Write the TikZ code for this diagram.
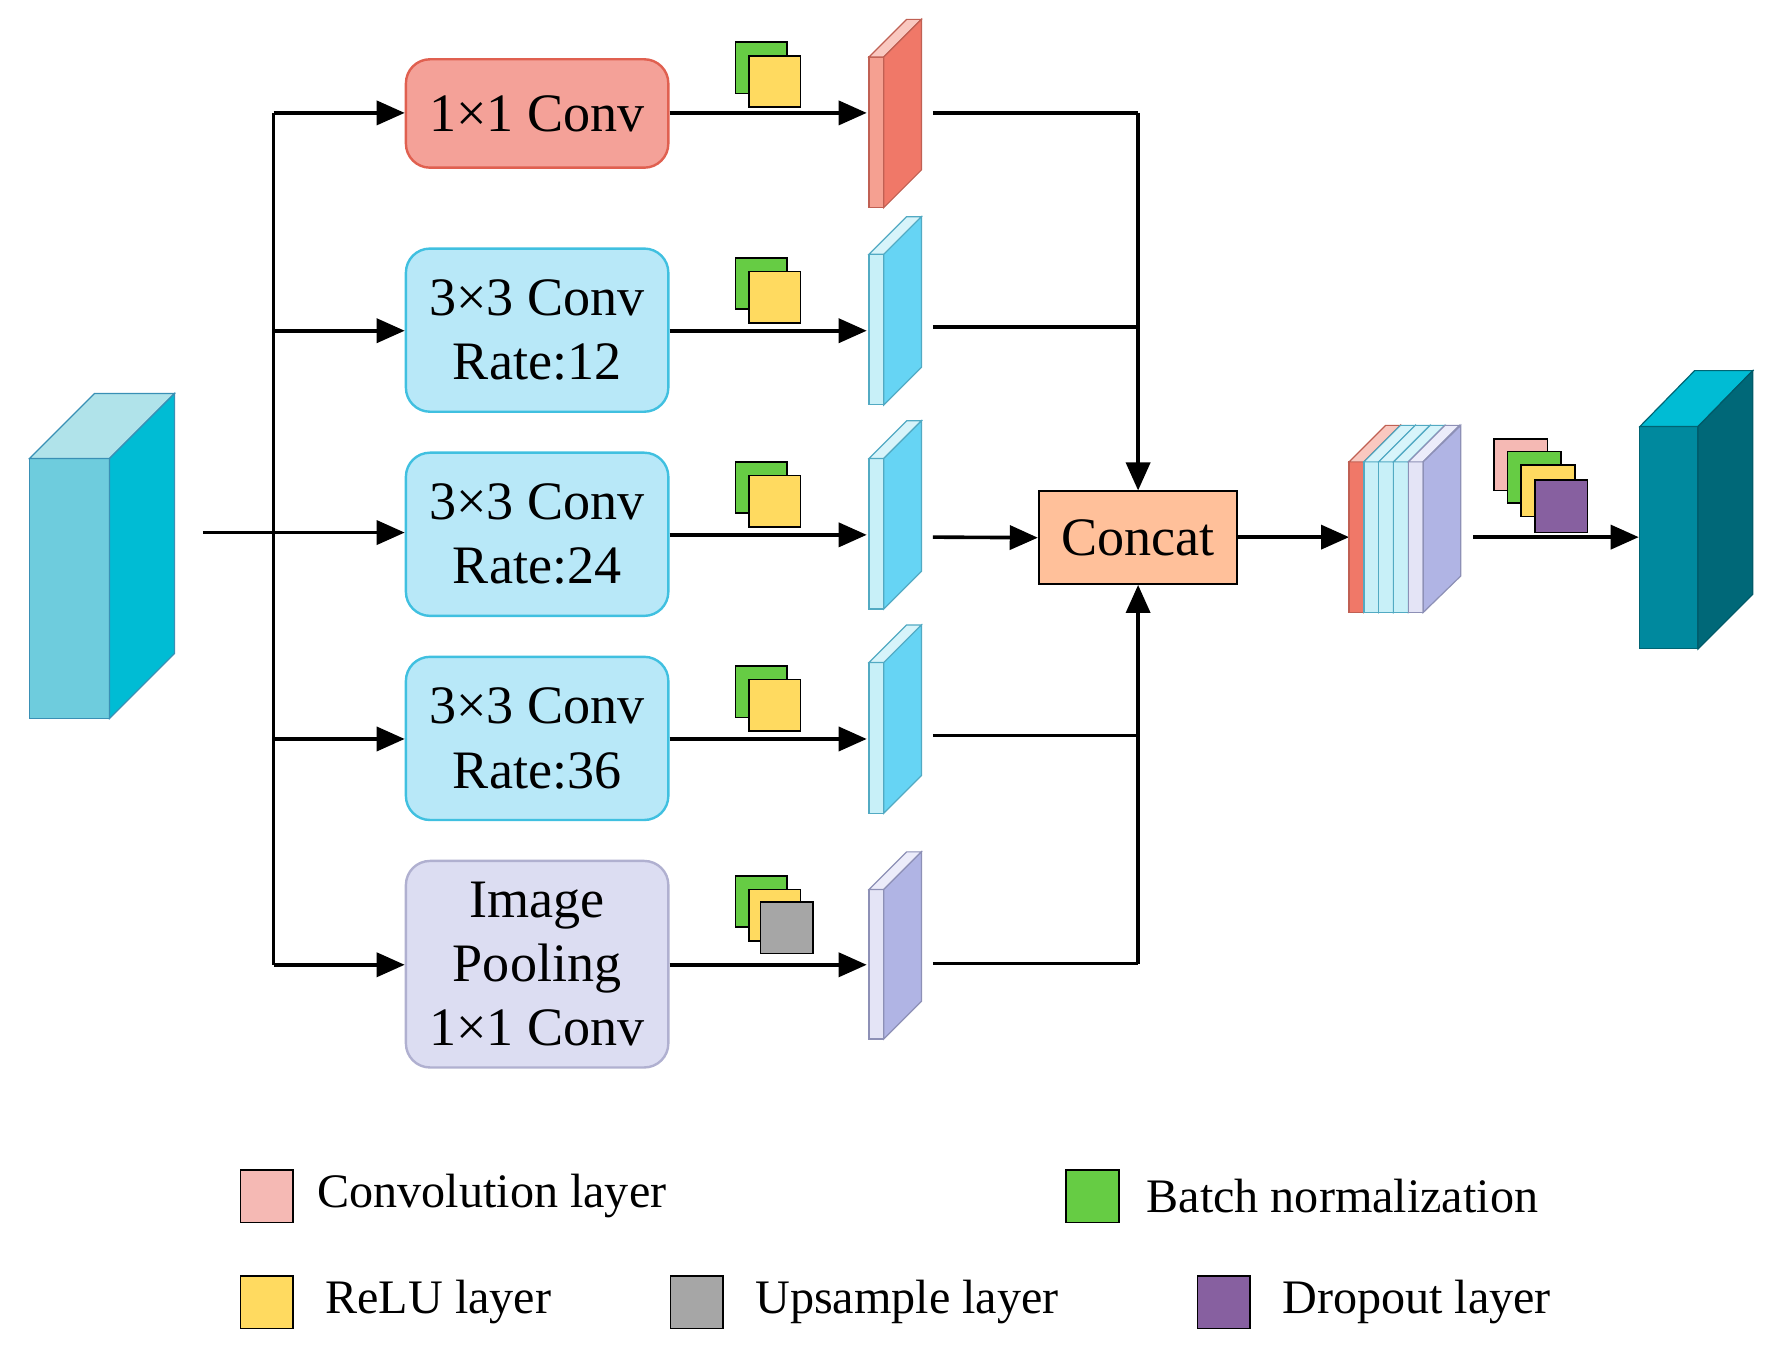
\documentclass[tikz,border=0pt]{standalone}
\usepackage{fontspec}
\setmainfont{Liberation Serif}
\usetikzlibrary{arrows.meta}
\definecolor{cpink}{HTML}{F4A198}
\definecolor{cblue}{HTML}{B8E8F8}
\definecolor{cpur}{HTML}{DCDDF2}
\definecolor{rf}{RGB}{245,160,145}\definecolor{rt}{RGB}{249,200,192}\definecolor{rs}{RGB}{240,120,104}
\definecolor{bf}{RGB}{200,240,248}\definecolor{bt}{RGB}{215,244,250}\definecolor{bs}{RGB}{102,212,244}
\definecolor{pf}{RGB}{228,228,246}\definecolor{pt}{RGB}{236,236,250}\definecolor{ps}{RGB}{176,180,228}
\definecolor{sgreen}{RGB}{102,204,68}\definecolor{syel}{RGB}{255,218,96}\definecolor{sgray}{RGB}{166,166,166}
\definecolor{spink}{RGB}{245,185,180}\definecolor{spur}{RGB}{135,96,160}
\begin{document}
\begin{tikzpicture}[x=0.01cm,y=-0.01cm,
 ln/.style={line width=0.9pt},
 ar/.style={ln,-{Triangle[length=7pt,width=6pt]}},
 box/.style={draw,rounded corners=6pt,line width=0.6pt,font=\fontsize{13.5pt}{16pt}\selectfont,align=center,inner sep=0pt,minimum width=2.3cm},
 sq/.style={draw=black,line width=0.4pt},
 lt/.style={anchor=west,font=\fontsize{12pt}{14pt}\selectfont}]
\useasboundingbox (0,0) rectangle (1560,1184);
\newcommand{\slab}[7]{%
 \filldraw[fill=#4,draw=#6!80!black,line width=0.3pt] (#1,#2) rectangle ++(13,#3);
 \filldraw[fill=#5,draw=#6!80!black,line width=0.3pt] (#1,#2) -- ++(#7,-#7) -- ++(13,0) -- ++(-#7,#7) -- cycle;
 \filldraw[fill=#6,draw=#6!80!black,line width=0.3pt] (#1+13,#2) -- ++(#7,-#7) -- ++(0,#3) -- ++(-#7,#7) -- cycle;}
% input block
\filldraw[draw=cyan!70!black,line width=0.3pt,fill={rgb,255:red,110;green,204;blue,221}] (26,402) rectangle (96,630);
\filldraw[draw=cyan!70!black,line width=0.3pt,fill={rgb,255:red,176;green,227;blue,234}] (26,402)--(83,345)--(153,345)--(96,402)--cycle;
\filldraw[draw=cyan!70!black,line width=0.3pt,fill={rgb,255:red,0;green,188;blue,212}] (96,402)--(153,345)--(153,573)--(96,630)--cycle;
\coordinate (in) at (178,467);
% boxes
\node[box,fill=cpink,draw={rgb,255:red,224;green,96;blue,80},minimum height=0.95cm] (b1) at (471,99.5) {1×1 Conv};
\node[box,fill=cblue,draw={rgb,255:red,64;green,192;blue,224},minimum height=1.43cm] (b2) at (471,289.5) {3×3 Conv\\Rate:12};
\node[box,fill=cblue,draw={rgb,255:red,64;green,192;blue,224},minimum height=1.43cm] (b3) at (471,468.5) {3×3 Conv\\Rate:24};
\node[box,fill=cblue,draw={rgb,255:red,64;green,192;blue,224},minimum height=1.43cm] (b4) at (471,647.5) {3×3 Conv\\Rate:36};
\node[box,fill=cpur,draw={rgb,255:red,176;green,176;blue,208},minimum height=1.81cm] (b5) at (471,845.5) {Image\\Pooling\\1×1 Conv};
% branches
\coordinate (j1) at (240,99); \coordinate (j5) at (240,846);
\draw[ar] (in) -- (b3.west|-in);
\draw[ln] (j1) -- (j5);
\draw[ar] (j1) -- (b1.west|-j1);
\draw[ar] (240,290) -- (b2.west|-0,290);
\draw[ar] (240,648) -- (b4.west|-0,648);
\draw[ar] (j5) -- (b5.west|-j5);
% arrows to slabs
\foreach \b/\y in {b1/99,b2/290,b3/469,b4/648,b5/846}{\coordinate (s\b) at (760,\y); \draw[ar] (\b.east|-0,\y) -- (s\b);}
% small squares
\foreach \y in {37,226,405,584,768}{
 \filldraw[sq,fill=sgreen] (645,\y) rectangle ++(45,45);
 \filldraw[sq,fill=syel] (657,\y+12) rectangle ++(45,45);}
\filldraw[sq,fill=sgray] (667,791) rectangle ++(46,45);
% slabs
\slab{762}{50}{132}{rf}{rt}{rs}{33}
\foreach \t in {223,402,581}{\slab{762}{\t}{132}{bf}{bt}{bs}{33}}
\slab{762}{780}{131}{pf}{pt}{ps}{33}
% concat
\node[draw,line width=0.5pt,fill={rgb,255:red,255;green,192;blue,154},minimum width=1.74cm,minimum height=0.81cm,font=\fontsize{13.5pt}{16pt}\selectfont,inner sep=0pt] (cc) at (998,471.5) {Concat};
\draw[ln] (818,99) -- (998,99);
\draw[ln] (818,287) -- (998,287);
\draw[ar] (998,99) -- (cc.north);
\draw[ar] (818,471) -- (cc.west);
\draw[ln] (818,645) -- (998,645);
\draw[ln] (818,845) -- (998,845);
\draw[ar] (998,845) -- (cc.south);
\coordinate (st) at (1183,471);
\draw[ar] (cc.east|-st) -- (st);
% stack
\slab{1183}{405}{132}{rs}{rt}{rs}{32}
\slab{1196}{405}{132}{bf}{bt}{bs}{32}
\slab{1209}{405}{132}{bf}{bt}{bs}{32}
\slab{1222}{405}{132}{bf}{bt}{bs}{32}
\slab{1235}{405}{132}{pf}{pt}{ps}{32}
\filldraw[fill=ps,draw=ps!80!black,line width=0.3pt] (1248,405)--(1281,373)--(1281,505)--(1248,537)--cycle;
% small squares 2
\filldraw[sq,fill=spink] (1310,385) rectangle ++(47,45);
\filldraw[sq,fill=sgreen] (1322,396) rectangle ++(47,45);
\filldraw[sq,fill=syel] (1334,408) rectangle ++(47,45);
\filldraw[sq,fill=spur] (1346,421) rectangle ++(46,46);
% output
\coordinate (o1) at (1292,471); \coordinate (o2) at (1437,471);
\draw[ar] (o1) -- (o2);
\filldraw[draw={rgb,255:red,0;green,100;blue,115},line width=0.3pt,fill={rgb,255:red,0;green,137;blue,158}] (1438,374) rectangle (1489,569);
\filldraw[draw={rgb,255:red,0;green,100;blue,115},line width=0.3pt,fill={rgb,255:red,0;green,188;blue,212}] (1438,374)--(1486,325)--(1537,325)--(1489,374)--cycle;
\filldraw[draw={rgb,255:red,0;green,90;blue,105},line width=0.3pt,fill={rgb,255:red,0;green,104;blue,120}] (1489,374)--(1537,325)--(1537,521)--(1489,569)--cycle;
% legend
\filldraw[sq,fill=spink] (211,1026) rectangle ++(46,46);
\node[lt] (l1) at (266,1049) {Convolution layer};
\filldraw[sq,fill=sgreen] (935,1026) rectangle ++(46,46);
\node[lt] (l2) at (993,1049) {Batch normalization};
\filldraw[sq,fill=syel] (211,1119) rectangle ++(46,46);
\node[lt] (l3) at (273,1142) {ReLU layer};
\filldraw[sq,fill=sgray] (588,1119) rectangle ++(46,46);
\node[lt] (l4) at (650,1142) {Upsample layer};
\filldraw[sq,fill=spur] (1050,1119) rectangle ++(46,46);
\node[lt] (l5) at (1112,1142) {Dropout layer};
\end{tikzpicture}
\end{document}
